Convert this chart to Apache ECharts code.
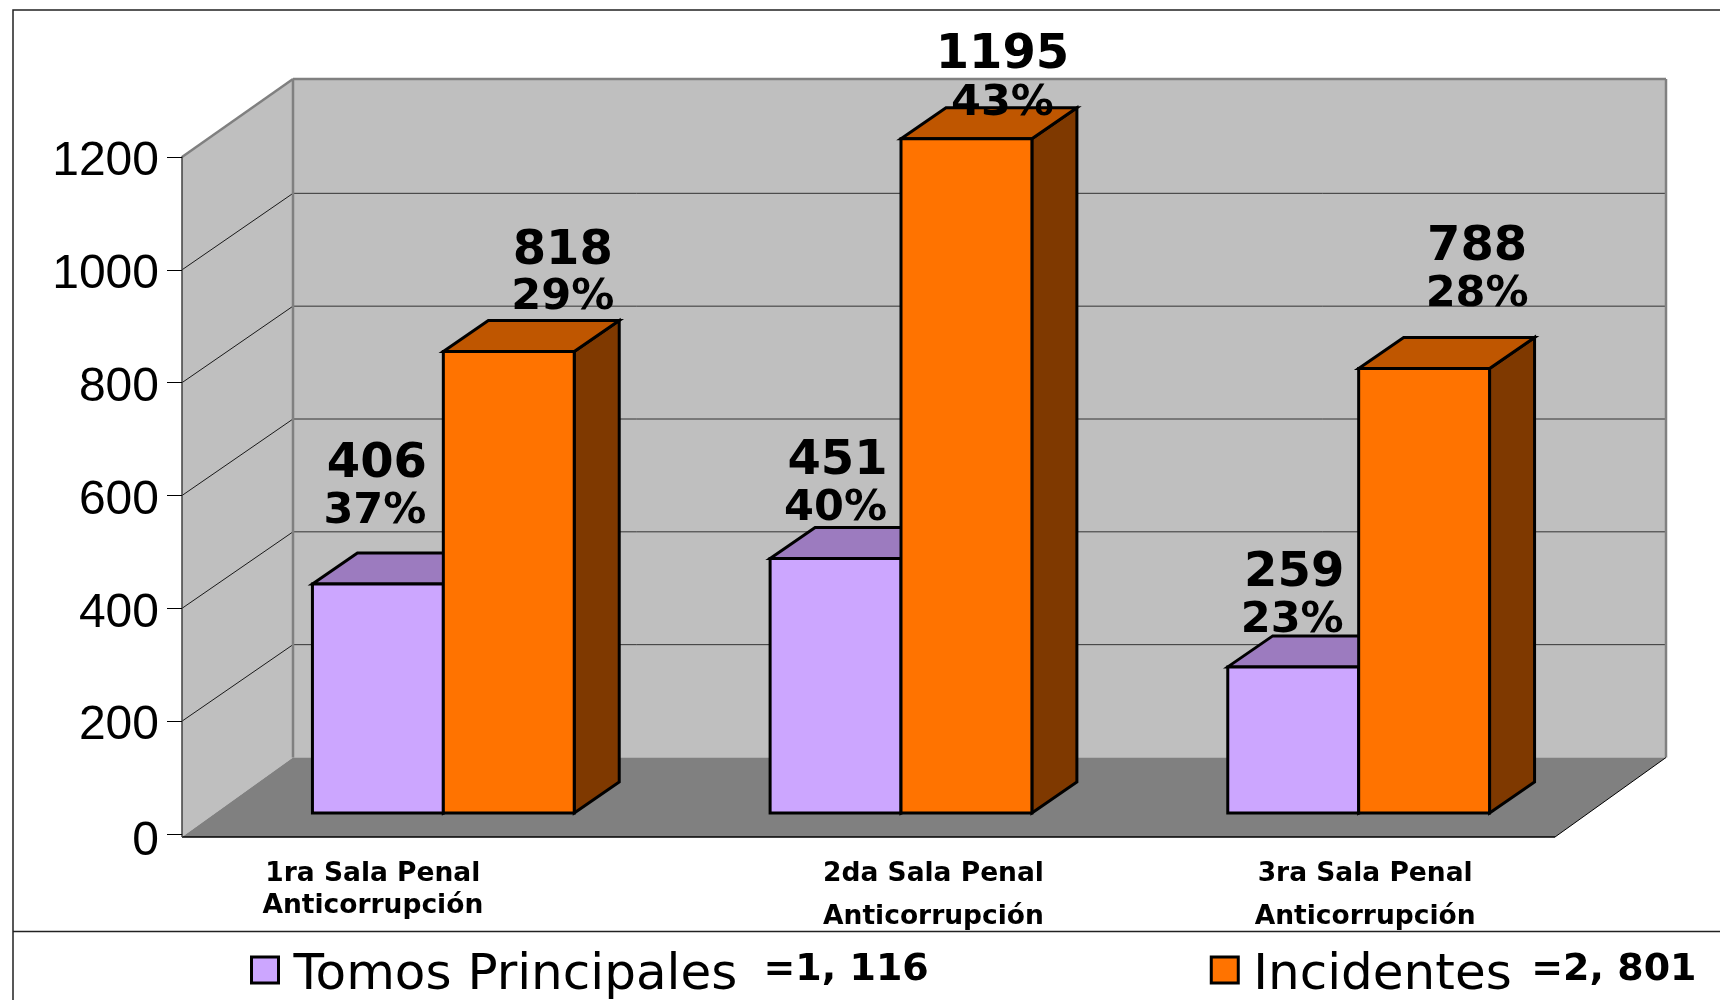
<!DOCTYPE html>
<html><head><meta charset="utf-8">
<style>html,body{margin:0;padding:0;background:#fff}#c{width:1720px;height:1000px}</style>
<script src="https://cdn.jsdelivr.net/npm/echarts@6/dist/echarts.min.js"></script>
</head><body><div id="c"></div>
<script>
const categories = ['1ra Sala Penal\nAnticorrupción', '2da Sala Penal\nAnticorrupción', '3ra Sala Penal\nAnticorrupción'];
const seriesNames = ['Tomos Principales', 'Incidentes'];
const tomos = [406, 451, 259];
const incidentes = [818, 1195, 788];
const tomosPct = ['37%', '40%', '23%'];
const incidentesPct = ['29%', '43%', '28%'];
const totals = ['=1, 116', '=2, 801'];
const yTicks = [200, 400, 600, 800, 1000];

// layout constants of the pseudo-3D projection
const DX = 111, DY = 76.5, FRONT_DX = 32.5, FRONT_DY = 21, BAR_DX = 45, BAR_DY = 31, BAR_FRAC = 0.286;
const FLOOR_DROP = 3, WALL_RISE = 1.5;
const palette = [
  {front: '#CCA6FF', top: '#9C7BBF', side: '#664D80'},
  {front: '#FF7300', top: '#BF5600', side: '#7F3900'}
];
// label nudges: [dx, dy value, dy pct] from the bar's front top centre
const nudges = [
  [[-1, 119, 72], [2, 97, 50], [1, 93, 46]],
  [[54, 100, 54], [36, 83, 35], [53, 121, 74]]
];

function poly(points, fill, stroke, lw) {
  return {type: 'polygon', shape: {points}, style: {fill: fill, stroke: stroke || 'none', lineWidth: lw || 0, lineJoin: 'miter'}};
}
function seg(p, q, stroke, lw) {
  return {type: 'line', shape: {x1: p[0], y1: p[1], x2: q[0], y2: q[1]}, style: {stroke, lineWidth: lw}};
}
function txt(x, y, text, size) {
  return {type: 'text', x, y, z2: 50, style: {text, fontFamily: 'DejaVu Sans', fontWeight: 'bold', fontSize: size, fill: '#000', align: 'center', verticalAlign: 'middle'}};
}

function renderWalls(params, api) {
  const band = api.size([1, 0])[0];
  const xL = api.coord([0, 0])[0] - band / 2;
  const xR = api.coord([2, 0])[0] + band / 2;
  const y0 = api.coord([0, 0])[1];
  const yF = y0 + FLOOR_DROP;
  const yT = api.coord([0, 1200])[1];
  const yB = yT - DY - WALL_RISE;
  const wall = '#BFBFBF', edge = '#808080';
  const kids = [
    poly([[xL, yF], [xL + DX, y0 - DY], [xL + DX, yB], [xL, yT]], wall),
    poly([[xL + DX, y0 - DY], [xR + DX, y0 - DY], [xR + DX, yB], [xL + DX, yB]], wall),
    poly([[xL, yF], [xR, yF], [xR + DX, y0 - DY], [xL + DX, y0 - DY]], '#808080')
  ];
  yTicks.forEach(v => {
    const y = api.coord([0, v])[1];
    kids.push(seg([xL, y], [xL + DX, y - DY], '#1a1a1a', 1));
    kids.push(seg([xL + DX, y - DY], [xR + DX, y - DY], '#333', 1));
  });
  kids.push(seg([xL, yT], [xL + DX, yB], edge, 2.5));
  kids.push(seg([xL + DX, yB], [xR + DX, yB], edge, 2.5));
  kids.push(seg([xL + DX, yB], [xL + DX, y0 - DY], edge, 2.5));
  kids.push(seg([xR + DX, yB], [xR + DX, y0 - DY], edge, 2.5));
  kids.push(seg([xL, yF], [xR, yF], '#000', 1.5));
  kids.push(seg([xR, yF], [xR + DX, y0 - DY], '#000', 1));
  kids.push(seg([xL, y0], [xL, yF], '#404040', 1.5));
  return {type: 'group', children: kids};
}

function barRenderer(s, pcts) {
  return function (params, api) {
    const i = api.value(0), v = api.value(1);
    const band = api.size([1, 0])[0];
    const w = band * BAR_FRAC;
    const c = api.coord([i, 0])[0] + FRONT_DX;
    const xa = s === 0 ? c - w : c, xb = s === 0 ? c : c + w;
    const yb = api.coord([i, 0])[1] - FRONT_DY;
    const yt = api.coord([i, v])[1] - FRONT_DY;
    const col = palette[s], lw = 3, k = '#000';
    const n = nudges[s][i];
    const cx = (xa + xb) / 2;
    return {type: 'group', children: [
      poly([[xb, yb], [xb + BAR_DX, yb - BAR_DY], [xb + BAR_DX, yt - BAR_DY], [xb, yt]], col.side, k, lw),
      poly([[xa, yt], [xb, yt], [xb + BAR_DX, yt - BAR_DY], [xa + BAR_DX, yt - BAR_DY]], col.top, k, lw),
      poly([[xa, yb], [xb, yb], [xb, yt], [xa, yt]], col.front, k, lw),
      txt(cx + n[0], yt - n[1], String(v), 48),
      txt(cx + n[0] - (s === 0 ? 2 : 0), yt - n[2], pcts[i], 43)
    ]};
  };
}

const labelFont = {fontFamily: 'DejaVu Sans', fontWeight: 'bold', fontSize: 26.5, color: '#000'};
const chart = echarts.init(document.getElementById('c'), null, {renderer: 'canvas'});
chart.setOption({
  animation: false,
  backgroundColor: '#fff',
  grid: {left: 182, right: 165, top: 157, bottom: 166, containLabel: false},
  xAxis: {
    type: 'category', data: categories,
    axisLine: {show: false}, axisTick: {show: false},
    axisLabel: {
      interval: 0, margin: 24, hideOverlap: false,
      formatter: function (val, idx) {
        const p = val.split('\n');
        if (idx === 0) return '{a0|' + p[0] + '}\n{a0|' + p[1] + '}';
        return '{b' + idx + '|' + p[0] + '}\n{c' + idx + '|' + p[1] + '}';
      },
      rich: {
        a0: Object.assign({}, labelFont, {lineHeight: 32, padding: [0, 76, 0, 0]}),
        b1: Object.assign({}, labelFont, {lineHeight: 32, padding: [0, 0, 0, 130]}),
        c1: Object.assign({}, labelFont, {lineHeight: 54, padding: [0, 0, 0, 130]}),
        b2: Object.assign({}, labelFont, {lineHeight: 32, padding: [0, 0, 0, 78]}),
        c2: Object.assign({}, labelFont, {lineHeight: 54, padding: [0, 0, 0, 78]})
      }
    }
  },
  yAxis: {
    type: 'value', min: 0, max: 1200, interval: 200, z: 6,
    axisLine: {show: true, lineStyle: {color: '#404040', width: 1.5}},
    axisTick: {show: true, length: 15, lineStyle: {color: '#000', width: 1}},
    splitLine: {show: false},
    axisLabel: {
      margin: 23, fontFamily: 'Liberation Sans', fontSize: 48, color: '#000',
      formatter: v => v === 0 ? '{z|0}' : String(v), padding: [10, 0, 0, 0],
      rich: {z: {fontFamily: 'Liberation Sans', fontSize: 48, color: '#000', padding: [6, 0, 0, 0]}}
    }
  },
  legend: {
    data: seriesNames, left: 245, top: 946, itemWidth: 27, itemHeight: 26, itemGap: 281,
    icon: 'rect', selectedMode: false,
    itemStyle: {borderColor: '#000', borderWidth: 3},
    formatter: name => '{n' + seriesNames.indexOf(name) + '|' + name + '}{t|' + totals[seriesNames.indexOf(name)] + '}',
    textStyle: {rich: {
      n0: {fontFamily: 'DejaVu Sans', fontSize: 50, color: '#000', width: 470, padding: [12, 0, 0, 10]},
      n1: {fontFamily: 'DejaVu Sans', fontSize: 50, color: '#000', width: 278, padding: [12, 0, 0, 10]},
      t: {fontFamily: 'DejaVu Sans', fontWeight: 'bold', fontSize: 38, color: '#000'}
    }}
  },
  graphic: [{
    type: 'polyline', silent: true, z: -1,
    shape: {points: [[13, 1000], [13, 10], [1720, 10]]},
    style: {stroke: '#222', lineWidth: 1.5, fill: 'none'}
  }, {
    type: 'line', silent: true, z: -1,
    shape: {x1: 13, y1: 931.5, x2: 1720, y2: 931.5},
    style: {stroke: '#222', lineWidth: 1.5}
  }],
  series: [
    {type: 'custom', name: 'walls', coordinateSystem: 'cartesian2d', z: 1, silent: true, renderItem: renderWalls, data: [[0, 0]], encode: {x: 0, y: 1}},
    {type: 'custom', name: seriesNames[0], coordinateSystem: 'cartesian2d', z: 2, renderItem: barRenderer(0, tomosPct),
      itemStyle: {color: palette[0].front}, data: tomos.map((v, i) => [i, v]), encode: {x: 0, y: 1}},
    {type: 'custom', name: seriesNames[1], coordinateSystem: 'cartesian2d', z: 3, renderItem: barRenderer(1, incidentesPct),
      itemStyle: {color: palette[1].front}, data: incidentes.map((v, i) => [i, v]), encode: {x: 0, y: 1}}
  ]
});
</script></body></html>
